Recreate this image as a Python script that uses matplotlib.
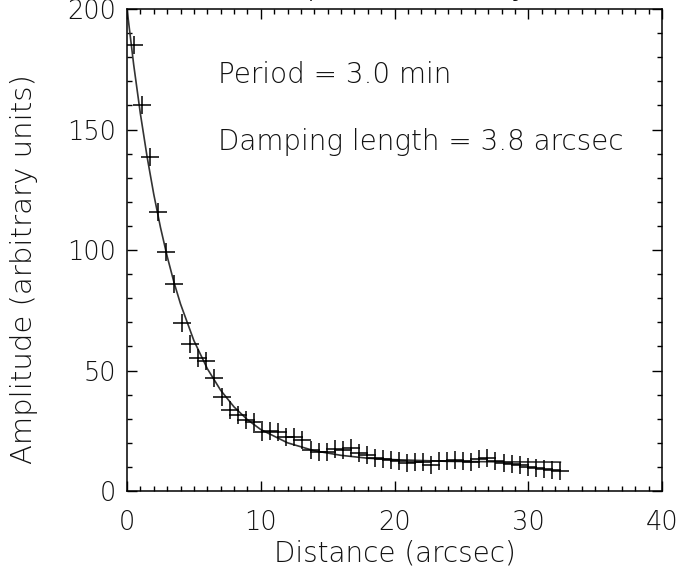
"""Amplitude vs distance with exponential damping fit."""

import matplotlib
matplotlib.use("Agg")
import matplotlib.pyplot as plt
from matplotlib.ticker import MultipleLocator

# measured amplitudes (crosses)
distance = [0.50, 1.10, 1.70, 2.30, 2.90, 3.51, 4.11, 4.71, 5.31, 5.91,
            6.51, 7.11, 7.71, 8.31, 8.91, 9.52, 10.12, 10.72, 11.32, 11.92,
            12.52, 13.12, 13.72, 14.32, 14.92, 15.53, 16.13, 16.73, 17.33, 17.93,
            18.53, 19.13, 19.73, 20.33, 20.93, 21.54, 22.14, 22.74, 23.34, 23.94,
            24.54, 25.14, 25.74, 26.34, 26.94, 27.55, 28.15, 28.75, 29.35, 29.95,
            30.55, 31.15, 31.75, 32.35]
amplitude = [185.0, 160.2, 138.7, 115.6, 99.0, 85.8, 69.8, 60.9, 55.3, 53.9,
             47.0, 38.8, 33.6, 31.5, 29.5, 28.8, 24.6, 25.0, 24.6, 22.5,
             22.5, 21.2, 17.0, 16.3, 16.0, 17.4, 17.0, 17.7, 15.6, 14.9,
             13.6, 13.2, 12.9, 12.4, 11.5, 12.2, 12.2, 10.8, 12.6, 12.6,
             12.9, 12.6, 12.2, 13.2, 13.6, 12.4, 11.8, 11.2, 10.8, 10.1,
             9.4, 9.1, 8.7, 8.3]

# fitted curve
fit_x = [0.0, 0.5, 1.0, 1.5, 2.0, 2.5, 3.0, 3.5, 4.0, 5.0, 6.0, 7.0, 8.0,
         9.0, 10.0, 12.0, 14.0, 16.0, 18.0, 20.0, 24.0, 28.0, 32.4]
fit_y = [200.0, 176.8, 156.5, 138.7, 123.1, 109.4, 97.4, 86.8, 77.6, 62.4,
         50.8, 41.8, 34.9, 29.6, 25.5, 20.0, 16.7, 14.8, 13.6, 13.0, 12.3,
         12.1, 12.0]

period_text = "Period = 3.0 min"
damping_text = "Damping length = 3.8 arcsec"

plt.rcParams["font.family"] = ["DejaVu Sans"]
plt.rcParams["font.weight"] = "light"
plt.rcParams["axes.labelweight"] = "light"
txt_color = "#111111"

fig = plt.figure(figsize=(6.87, 5.74), dpi=100)
ax = fig.add_axes([0.1849, 0.1446, 0.9636 - 0.1849, 0.9843 - 0.1446])

ax.plot(fit_x, fit_y, color="#333333", linewidth=1.2)
ax.plot(distance, amplitude, linestyle="none", marker="+", markersize=13,
        markeredgewidth=1.1, color="black")

ax.set_xlim(0, 40)
ax.set_ylim(0, 200)
ax.xaxis.set_major_locator(MultipleLocator(10))
ax.xaxis.set_minor_locator(MultipleLocator(1))
ax.yaxis.set_major_locator(MultipleLocator(50))
ax.yaxis.set_minor_locator(MultipleLocator(10))
ax.tick_params(which="both", direction="in", top=True, right=True,
               width=1.0, colors="black", labelcolor=txt_color, labelsize=18.5)
ax.tick_params(which="major", length=7.5)
ax.tick_params(which="minor", length=3.8)
ax.tick_params(axis="x", pad=14)
ax.tick_params(axis="y", pad=8)
for sp in ax.spines.values():
    sp.set_linewidth(1.1)

ax.set_xlabel("Distance (arcsec)", fontsize=20, color=txt_color, labelpad=3)
ax.set_ylabel("Amplitude (arbitrary units)", fontsize=21, color=txt_color)
ax.yaxis.set_label_coords(-0.167, 0.46)

ax.text(6.8, 172.6, period_text, fontsize=20, color=txt_color, va="center")
ax.text(6.8, 144.8, damping_text, fontsize=20, color=txt_color, va="center")

# title sits mostly above the canvas, only descenders show
fig.text(0.569, 1.0 + 5.8 / 574, "Amplitude decay", fontsize=23.7,
         color=txt_color, ha="center", va="baseline")

fig.savefig("out.png", dpi=100)
plt.close(fig)
